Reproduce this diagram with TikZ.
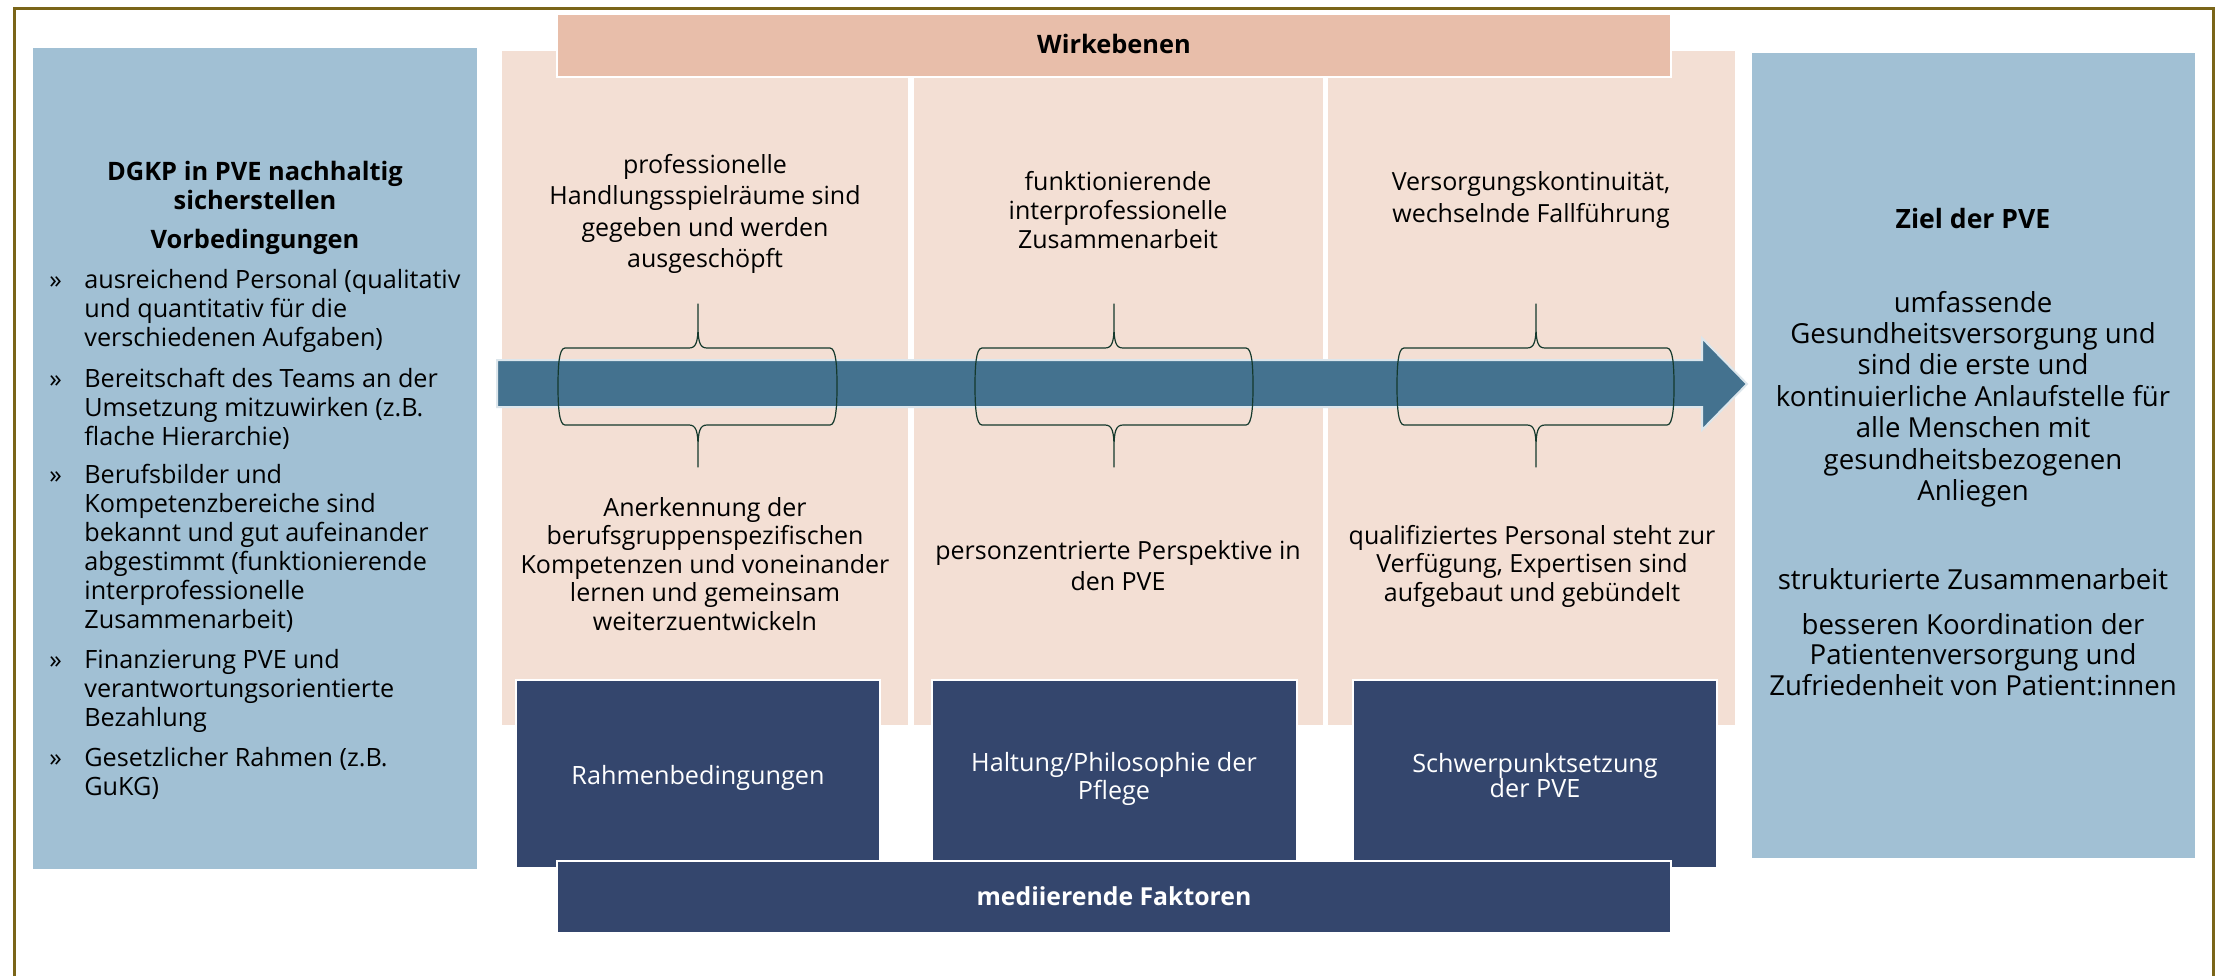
\documentclass[tikz,border=0pt]{standalone}
\usepackage{fontspec}
\setmainfont{Open Sans}
\definecolor{frameol}{HTML}{7A6518}
\definecolor{lblue}{HTML}{A1C0D4}
\definecolor{peach}{HTML}{F3DFD4}
\definecolor{peachdark}{HTML}{E8BEAA}
\definecolor{arrowblue}{HTML}{44728F}
\definecolor{arrowedge}{HTML}{DCE6EC}
\definecolor{navy}{HTML}{34466D}
\definecolor{bracecol}{HTML}{14392C}
\newcommand\mlc[1]{\vtop{\lineskiplimit=-50pt\let\\\cr\halign{\hfil##\hfil\cr#1\crcr}}}
\newcommand\mll[1]{\vtop{\lineskiplimit=-50pt\let\\\cr\halign{##\hfil\cr#1\crcr}}}
\newcommand\fs[2]{\fontsize{#1}{#2}\selectfont}
\newcommand\dbrace[4]{% #1 name, #2 left bulge x, #3 centre x, #4 right bulge x
\draw[bracestyle] ({#2+7},348) -- ({#3-9},348) .. controls ({#3-2},348) and (#3,342) .. (#3,326) -- (#3,304)
  -- (#3,326) .. controls (#3,342) and ({#3+2},348) .. ({#3+9},348) -- ({#4-7},348)
  .. controls ({#4-1},348) and (#4,366) .. (#4,386) .. controls (#4,406) and ({#4-1},425) .. ({#4-7},425)
  -- ({#3+9},425) .. controls ({#3+2},425) and (#3,431) .. (#3,448) -- (#3,467)
  -- (#3,448) .. controls (#3,431) and ({#3-2},425) .. ({#3-9},425) -- ({#2+7},425)
  .. controls ({#2+1},425) and (#2,406) .. (#2,386) .. controls (#2,366) and ({#2+1},348) .. cycle;
\coordinate (#1) at (#3,386);}
\begin{document}
\begin{tikzpicture}[x=0.5pt,y=-0.5pt,
  box/.style={anchor=north west, inner sep=0pt, outer sep=0pt},
  txt/.style={anchor=base, inner sep=0pt, font=\fs{12.5}{14.5}},
  ltxt/.style={anchor=base west, inner sep=0pt, font=\fs{12.6}{14.5}},
  btxt/.style={txt, font=\fs{12.7}{14.5}\bfseries},
  rtxt/.style={txt, font=\fs{13.8}{15.7}},
  wtxt/.style={txt, text=white, font=\fs{12.6}{14}},
  bracestyle/.style={draw=bracecol, line width=0.6pt, line join=round}]
\useasboundingbox (0,0) rectangle (2226,976);
\fill[white] (0,0) rectangle (2226,976);
% frame
\draw[frameol, line width=1.5pt] (14,976) -- (14,8) -- (2213,8) -- (2213,976);
% side boxes
\node[box, fill=lblue, minimum width=222pt, minimum height=410.5pt] (pre) at (33,48) {};
\node[box, fill=lblue, minimum width=221.5pt, minimum height=402.5pt] (goal) at (1752,53) {};
% columns
\node[box, fill=peach, minimum width=203pt, minimum height=337pt] (col1) at (502,51) {};
\node[box, fill=peach, minimum width=204.5pt, minimum height=337pt] (col2) at (914,51) {};
\node[box, fill=peach, minimum width=203.5pt, minimum height=337pt] (col3) at (1328,51) {};
% arrow
\fill[arrowblue, draw=arrowedge, line width=1pt] (497,360) -- (1702,360) -- (1702,338) -- (1747,384) -- (1702,430) -- (1702,407) -- (497,407) -- cycle;
\coordinate (arrowtip) at (1747,384);
% braces
\dbrace{br1}{558}{698}{837}
\dbrace{br2}{975}{1114}{1253}
\dbrace{br3}{1397}{1536}{1674}
% header bar
\node[box, fill=peachdark, draw=white, line width=1pt, minimum width=557pt, minimum height=31.5pt] (wirk) at (557,14) {};
\node[btxt] (wirkl) at (1114,53) {Wirkebenen};
% dark boxes
\node[box, fill=navy, draw=white, line width=1pt, minimum width=182pt, minimum height=94pt] (f1) at (516,680) {};
\node[box, fill=navy, draw=white, line width=1pt, minimum width=182.5pt, minimum height=94pt] (f2) at (932,680) {};
\node[box, fill=navy, draw=white, line width=1pt, minimum width=182pt, minimum height=94pt] (f3) at (1353,680) {};
\node[box, fill=navy, draw=white, line width=1pt, minimum width=557pt, minimum height=36pt] (med) at (557,861) {};
\node[wtxt] (f1l) at (698,784) {Rahmenbedingungen};
\node[wtxt] (f2l) at (1114,771) {\mlc{Haltung/Philosophie der\\Pflege}};
\node[wtxt] (f3l) at (1535,772) {\fs{12.6}{12.7}\mlc{Schwerpunktsetzung\\der PVE}};
\node[btxt, text=white, font=\fs{12.4}{14}\bfseries] (medl) at (1114,905) {mediierende Faktoren};
% left box text
\node[btxt] (dgkp) at (255,180) {\mlc{DGKP in PVE nachhaltig\\sicherstellen}};
\node[btxt] (vorb) at (255,248) {Vorbedingungen};
\node[ltxt] (m1) at (49,288) {»};
\node[ltxt] (b1) at (84,288) {\mll{ausreichend Personal (qualitativ\\und quantitativ für die\\verschiedenen Aufgaben)}};
\node[ltxt] (m2) at (49,387) {»};
\node[ltxt] (b2) at (84,387) {\mll{Bereitschaft des Teams an der\\Umsetzung mitzuwirken (z.B.\\flache Hierarchie)}};
\node[ltxt] (m3) at (49,483) {»};
\node[ltxt] (b3) at (84,483) {\mll{Berufsbilder und\\Kompetenzbereiche sind\\bekannt und gut aufeinander\\abgestimmt (funktionierende\\interprofessionelle\\Zusammenarbeit)}};
\node[ltxt] (m4) at (49,668) {»};
\node[ltxt] (b4) at (84,668) {\mll{Finanzierung PVE und\\verantwortungsorientierte\\Bezahlung}};
\node[ltxt] (m5) at (49,766) {»};
\node[ltxt] (b5) at (84,766) {\mll{Gesetzlicher Rahmen (z.B.\\GuKG)}};
% column texts
\node[txt] (c1t) at (705,173) {\fs{12.5}{15.8}\mlc{professionelle\\Handlungsspielräume sind\\gegeben und werden\\ausgeschöpft}};
\node[txt] (c1b) at (705,516) {\fs{12.5}{14.25}\mlc{Anerkennung der\\berufsgruppenspezifischen\\Kompetenzen und voneinander\\lernen und gemeinsam\\weiterzuentwickeln}};
\node[txt] (c2t) at (1118,190) {\fs{12.5}{14.5}\mlc{funktionierende\\interprofessionelle\\Zusammenarbeit}};
\node[txt] (c2b) at (1118,559) {\fs{12.5}{15.75}\mlc{personzentrierte Perspektive in\\den PVE}};
\node[txt] (c3t) at (1531,190) {\fs{12.5}{16}\mlc{Versorgungskontinuität,\\wechselnde Fallführung}};
\node[txt] (c3b) at (1532,544) {\fs{12.5}{14.25}\mlc{qualifiziertes Personal steht zur\\Verfügung, Expertisen sind\\aufgebaut und gebündelt}};
% right box text
\node[btxt, font=\fs{13.3}{15}\bfseries] (ziel) at (1973,228) {Ziel der PVE};
\node[rtxt] (g1) at (1973,312) {\mlc{umfassende\\Gesundheitsversorgung und\\sind die erste und\\kontinuierliche Anlaufstelle für\\alle Menschen mit\\gesundheitsbezogenen\\Anliegen}};
\node[rtxt] (g2) at (1973,589) {strukturierte Zusammenarbeit};
\node[rtxt] (g3) at (1973,634) {\fs{13.8}{15.25}\mlc{besseren Koordination der\\Patientenversorgung und\\Zufriedenheit von Patient:innen}};
\end{tikzpicture}
\end{document}
